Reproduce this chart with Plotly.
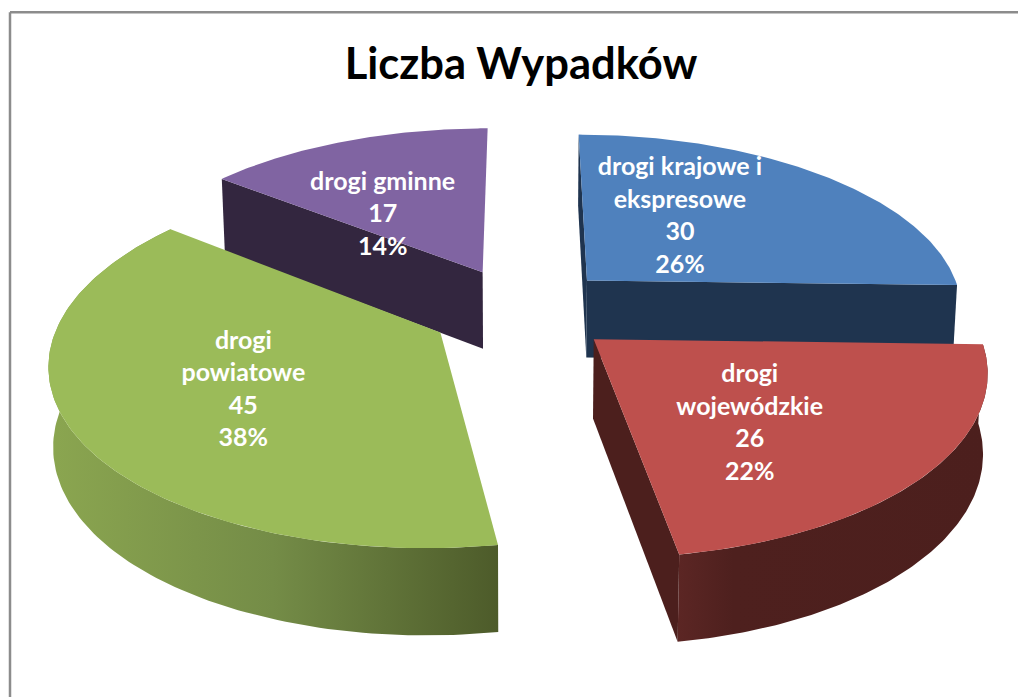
import numpy as np
import plotly.graph_objects as go

# ---- data ----
categories = ["drogi krajowe i<br>ekspresowe", "drogi<br>wojewódzkie", "drogi<br>powiatowe", "drogi gminne"]
values = [30, 26, 45, 17]
percent_labels = ["26%", "22%", "38%", "14%"]
title_text = "Liczba Wypadków"

# ---- style ----
top_colors = ["#4f81bd", "#be504d", "#9bbb59", "#8064a2"]
wall_colors = [
    [[0, "#1f344f"], [1, "#1f344f"]],
    [[0, "#5c2624"], [0.18, "#4e201e"], [1, "#4c1f1d"]],
    [[0, "#8ba650"], [0.5, "#748c47"], [1, "#4d5b2a"]],
    [[0, "#33263f"], [1, "#33263f"]],
]
draw_order = [3, 0, 2, 1]
label_offset = [(93, -63), (156, 85.5), (-197, 59), (-100, -56.5)]
# which cut faces of each slice are seen (start, end), and whether its rim is
cut_visible = [(True, True), (False, True), (False, False), (True, False)]
rim_visible = [False, True, True, False]

# ---- projection of the tilted pie ----
CX, CY = 522.0, 310.0
A, B, P = 378.0, 176.0, 0.15
H, H_POW, SHRINK = 78.0, 0.75, 0.99
EXPLODE = 0.246


def project(gx, gy, bottom=False):
    w = 1 + P * gy
    sx, sy = A * gx / w, -B * gy / w
    if bottom:
        return CX + SHRINK * sx, CY + SHRINK * sy + H / w ** H_POW
    return CX + sx, CY + sy


def polygon(fig, xs, ys, **kw):
    fig.add_trace(go.Scatter(x=xs, y=ys, mode="lines", fill="toself", line=dict(width=0),
                             hoverinfo="skip", showlegend=False, **kw))


total = sum(values)
edges = np.cumsum([0] + values) / total * 2 * np.pi
fig = go.Figure()
apexes = {}
for i in draw_order:
    a0, a1 = edges[i], edges[i + 1]
    mid = (a0 + a1) / 2
    ax, ay = EXPLODE * np.sin(mid), EXPLODE * np.cos(mid)
    t = np.linspace(a0, a1, 120)
    gx = np.concatenate([[ax], ax + np.sin(t), [ax]])
    gy = np.concatenate([[ay], ay + np.cos(t), [ay]])
    tx, ty = project(gx, gy)
    bx, by = project(gx, gy, bottom=True)
    apexes[i] = (tx[0], ty[0])
    grad = dict(type="horizontal", colorscale=wall_colors[i])
    faces = []
    if rim_visible[i]:
        faces.append((1, len(t), True))
    if cut_visible[i][0]:
        faces.append((0, 1, False))
    if cut_visible[i][1]:
        faces.append((len(t), len(t) + 1, False))
    for j0, j1, is_rim in faces:
        xs = np.concatenate([tx[j0:j1 + 1], bx[j0:j1 + 1][::-1]])
        ys = np.concatenate([ty[j0:j1 + 1], by[j0:j1 + 1][::-1]])
        if is_rim:
            polygon(fig, xs, ys, fillgradient=grad)
        else:
            polygon(fig, xs, ys, fillcolor=wall_colors[i][-1][1])
    polygon(fig, tx, ty, fillcolor=top_colors[i])

for i in range(len(values)):
    fig.add_trace(go.Scatter(
        x=[apexes[i][0] + label_offset[i][0]], y=[apexes[i][1] + label_offset[i][1]],
        mode="text", text=[f"{categories[i]}<br>{values[i]}<br>{percent_labels[i]}"],
        textposition="middle center",
        textfont=dict(family="Lato", size=25, color="white", weight="bold"),
        hoverinfo="skip", showlegend=False))

fig.update_layout(
    width=1018, height=697, margin=dict(l=0, r=0, t=0, b=0),
    paper_bgcolor="white", plot_bgcolor="white",
    xaxis=dict(range=[0, 1018], visible=False, fixedrange=True),
    yaxis=dict(range=[697, 0], visible=False, fixedrange=True),
    title=dict(text=title_text, x=521 / 1018, y=1 - 64 / 697, xanchor="center", yanchor="middle",
               font=dict(family="Lato", size=43.5, color="black", weight="bold")),
    shapes=[
        dict(type="line", xref="x", yref="y", x0=10, y0=12.3, x1=1018, y1=12.3,
             line=dict(color="#8c8c8c", width=2.5), layer="below"),
        dict(type="line", xref="x", yref="y", x0=10, y0=12.3, x1=10, y1=697,
             line=dict(color="#8c8c8c", width=2.5), layer="below"),
    ],
)
fig.write_html("out.html", post_script="document.body.style.margin='0';", config=dict(displayModeBar=False))
